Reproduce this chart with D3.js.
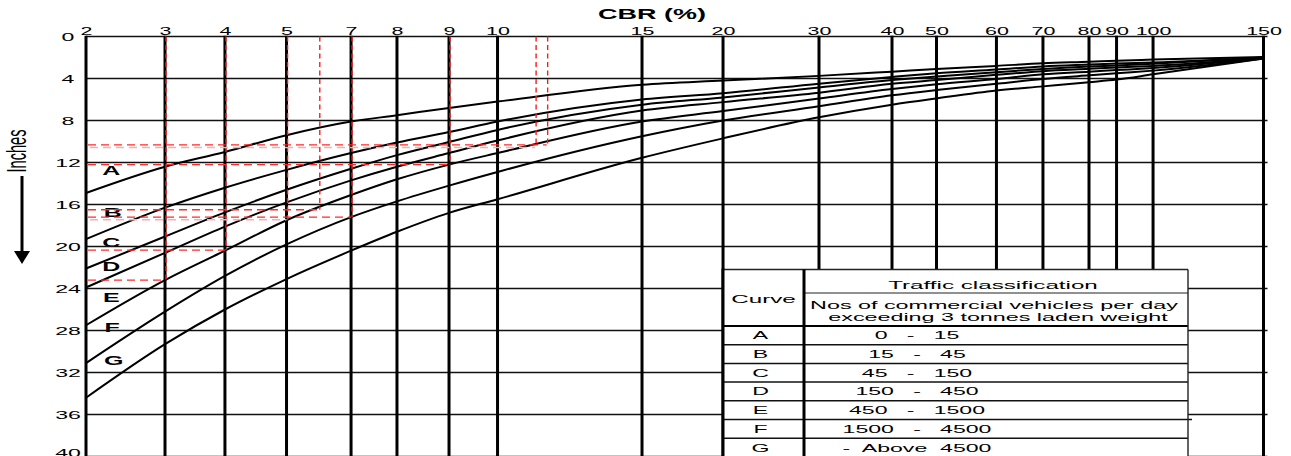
<!DOCTYPE html>
<html>
<head>
<meta charset="utf-8">
<script src="https://cdn.jsdelivr.net/npm/d3@7"></script>
<style>
  html, body { margin: 0; padding: 0; background: #fff; }
  svg { display: block; font-family: "Liberation Sans", Arial, sans-serif; }
</style>
</head>
<body>
<svg id="chart" width="1291" height="456"></svg>
<script>
// ---- data -------------------------------------------------------------
// CBR values printed at the vertical rules
const cbrTicks = [2, 3, 4, 5, 7, 8, 9, 10, 15, 20, 30, 40, 50, 60, 70, 80, 90, 100, 150];
// thickness of construction, inches (axis runs downward)
const depthTicks = [0, 4, 8, 12, 16, 20, 24, 28, 32, 36, 40];

const curveNames = ["A", "B", "C", "D", "E", "F", "G"];
// thickness (inches) of each curve at the CBR values in cbrTicks
const curveA = [14.9, 12.4, 11.0, 9.4, 8.1, 7.5, 6.8, 6.2, 4.6, 4.2, 3.75, 3.35, 3.1, 2.8, 2.55, 2.4, 2.3, 2.2, 1.95];
const curveB = [19.3, 16.3, 14.4, 12.7, 11.1, 10.1, 9.1, 8.1, 6.0, 5.4, 4.5, 3.85, 3.5, 3.15, 2.85, 2.67, 2.57, 2.48, 2.0];
const curveC = [22.1, 19.05, 16.75, 14.6, 12.6, 11.3, 10.05, 8.9, 6.5, 5.8, 4.85, 4.15, 3.8, 3.4, 3.1, 2.86, 2.76, 2.6, 2.0];
const curveD = [23.9, 20.6, 18.1, 15.8, 13.7, 12.4, 11.1, 9.9, 7.05, 6.25, 5.35, 4.5, 4.15, 3.65, 3.3, 3.08, 2.95, 2.8, 2.05];
const curveE = [27.5, 23.2, 20.4, 17.5, 15.1, 13.6, 12.2, 11.1, 8.1, 7.1, 5.9, 5.0, 4.55, 4.05, 3.6, 3.35, 3.2, 3.0, 2.05];
const curveF = [31.1, 26.2, 22.8, 19.8, 17.2, 15.7, 14.2, 12.9, 9.5, 8.0, 6.65, 5.6, 5.1, 4.5, 4.05, 3.7, 3.5, 3.25, 2.1];
const curveG = [34.4, 29.3, 26.0, 23.1, 20.4, 18.6, 16.8, 15.5, 11.55, 9.7, 7.7, 6.5, 5.9, 5.15, 4.75, 4.35, 4.1, 3.6, 2.1];
// where each curve letter sits (CBR, inches)
const labelCBR = [2.32, 2.34, 2.32, 2.32, 2.32, 2.33, 2.35];
const labelDepth = [12.8, 16.8, 19.6, 21.9, 24.9, 27.7, 30.9];

// traffic classification table
const tableTitle = "Traffic classification";
const tableSub1 = "Nos of commercial vehicles per day";
const tableSub2 = "exceeding 3 tonnes laden weight";
const trafficRanges = ["0   -   15", "15   -   45", "45   -   150", "150   -   450",
                       "450   -   1500", "1500   -   4500", "-  Above  4500"];

// worked readings: CBR rule drawn down to a thickness, then read across
const verticalCBR = [3, 4, 5, 6, 7, 9, 11.3, 11.7];
const verticalTo  = [23.2, 20.35, 17.45, 16.5, 17.2, 12.2, 10.33, 10.33];
const readDepth   = [23.2, 20.35, 16.5, 17.2, 12.2, 10.33];
const readToCBR   = [3, 4, 6, 7, 9, 11.7];
const paleDepth   = [17.45, 10.57];
const paleToCBR   = [5, 11.3];

// ---- layout -----------------------------------------------------------
const W = 1291, H = 456;
const plot = { left: 86, right: 1263.5, top: 36.5, inch: 10.5 };
// the printed CBR scale is non-uniform: fraction of the axis length at each rule
const cbrRuleFraction = [0, 0.0671, 0.1180, 0.1703, 0.2251, 0.2641, 0.3083, 0.3495, 0.4722,
                         0.5410, 0.6225, 0.6845, 0.7223, 0.7732, 0.8127, 0.8518, 0.8752, 0.9062, 1];
const table = { left: 723, right: 1188, top: 269.5, split: 804, titleLine: 293, headLine: 326, row: 18.7 };
const TEXT_SX = 2.0;   // horizontal stretch of the printed lettering

const svg = d3.select("#chart");
const x = d3.scaleLinear()
  .domain(cbrTicks)
  .range(cbrRuleFraction.map(f => plot.left + f * (plot.right - plot.left)));
const y = d3.scaleLinear().domain([0, 40]).range([plot.top, plot.top + 40 * plot.inch]);

function stretched(g, px, py, str, o = {}) {
  return g.append("text")
    .attr("transform", `translate(${px},${py}) scale(${o.sx || TEXT_SX},1)`)
    .attr("text-anchor", o.anchor || "middle")
    .attr("font-size", o.size || 11)
    .attr("font-weight", o.weight || "normal")
    .attr("fill", "#000")
    .text(str);
}

// ---- title & axis labels ---------------------------------------------
stretched(svg, 652, 19, "CBR (%)", { size: 15, weight: "bold", sx: 1.8 });

svg.append("g")
  .attr("transform", `translate(0,${plot.top - 1.5})`)
  .call(d3.axisTop(x).tickValues(cbrTicks).tickSize(0).tickPadding(0).tickFormat(d3.format("d")))
  .call(g => g.select(".domain").remove())
  .call(g => g.selectAll("text")
    .attr("transform", "scale(1.95,1)")
    .attr("font-size", 11)
    .attr("font-family", "Liberation Sans, Arial, sans-serif")
    .attr("fill", "#000"));

svg.append("g")
  .attr("transform", "translate(68,0)")
  .call(d3.axisLeft(y).tickValues(depthTicks).tickSize(0).tickPadding(0).tickFormat(d3.format("d")))
  .call(g => g.select(".domain").remove())
  .call(g => g.selectAll("text")
    .attr("text-anchor", "middle")
    .attr("transform", "scale(2.1,1)")
    .attr("font-size", 11)
    .attr("font-family", "Liberation Sans, Arial, sans-serif")
    .attr("fill", "#000"))
  // the last label sits against the lower edge of the sheet
  .call(g => g.selectAll(".tick").filter(d => d === 40).select("text").attr("y", -4));

// "Inches" with a downward arrow
svg.append("text")
  .attr("transform", "translate(26,151) scale(1.9,1) rotate(-90)")
  .attr("text-anchor", "middle")
  .attr("font-size", 14.6)
  .attr("fill", "#000")
  .text("Inches");
svg.append("line").attr("x1", 22).attr("x2", 22).attr("y1", 176).attr("y2", 254)
  .attr("stroke", "#000").attr("stroke-width", 3);
svg.append("path").attr("d", "M14,251 L30,251 L22,264 Z").attr("fill", "#000");

// ---- curve letters (under the grid) ---------------------------------
svg.append("g").selectAll("text")
  .data(curveNames)
  .join("text")
  .attr("transform", (d, i) => `translate(${x(labelCBR[i])},${y(labelDepth[i])}) scale(2,1)`)
  .attr("text-anchor", "middle")
  .attr("dominant-baseline", "central")
  .attr("font-size", 12.5)
  .attr("font-weight", "bold")
  .attr("fill", "#000")
  .text(d => d);

// ---- grid -------------------------------------------------------------
svg.append("g").selectAll("line")
  .data(depthTicks)
  .join("line")
  .attr("x1", plot.left).attr("x2", plot.right + 4)
  .attr("y1", d => y(d)).attr("y2", d => y(d))
  .attr("stroke", "#111").attr("stroke-width", 1.6);

const underTable = v => x(v) > table.left + 2 && x(v) < table.right;
svg.append("g").selectAll("line")
  .data(cbrTicks)
  .join("line")
  .attr("x1", d => x(d)).attr("x2", d => x(d))
  .attr("y1", y(0) - 0.8)
  .attr("y2", d => underTable(d) ? table.top : H + 2)
  .attr("stroke", "#000").attr("stroke-width", 3);

// ---- design curves ----------------------------------------------------
const curves = [curveA, curveB, curveC, curveD, curveE, curveF, curveG];
const line = d3.line()
  .x(d => x(d.cbr))
  .y(d => y(d.depth))
  .curve(d3.curveMonotoneX);
svg.append("g").selectAll("path")
  .data(curves.map(vals => vals.map((v, i) => ({ cbr: cbrTicks[i], depth: v }))))
  .join("path")
  .attr("d", line)
  .attr("fill", "none")
  .attr("stroke", "#000")
  .attr("stroke-width", 2);

// ---- worked readings (dashed red) ------------------------------------
const red = svg.append("g").attr("fill", "none");
verticalCBR.forEach((c, i) => {
  red.append("line")
    .attr("x1", x(c) + 1).attr("x2", x(c) + 1)
    .attr("y1", y(0)).attr("y2", y(verticalTo[i]))
    .attr("stroke", "#ff1a1a").attr("stroke-width", 1.4).attr("stroke-dasharray", "5,3.5");
});
readDepth.forEach((d, i) => {
  red.append("line")
    .attr("x1", x(2) + 2).attr("x2", x(readToCBR[i]))
    .attr("y1", y(d)).attr("y2", y(d))
    .attr("stroke", "#ff2a2a").attr("stroke-width", 1.3).attr("stroke-dasharray", "8,5");
});
paleDepth.forEach((d, i) => {
  red.append("line")
    .attr("x1", x(2) + 4).attr("x2", x(paleToCBR[i]))
    .attr("y1", y(d)).attr("y2", y(d))
    .attr("stroke", "#ffacac").attr("stroke-width", 1.5).attr("stroke-dasharray", "8,5");
});

// ---- traffic classification table ------------------------------------
const tg = svg.append("g");
tg.append("rect")
  .attr("x", table.left).attr("y", table.top)
  .attr("width", table.right - table.left).attr("height", H - table.top + 2)
  .attr("fill", "#fff");
const rowTop = i => table.headLine + i * table.row;

// row separators
tg.selectAll("line.row")
  .data(curveNames.slice(0, -1))
  .join("line")
  .attr("class", "row")
  .attr("x1", table.left).attr("x2", (d, i) => i === 4 ? table.right + 4 : table.right)
  .attr("y1", (d, i) => rowTop(i + 1)).attr("y2", (d, i) => rowTop(i + 1))
  .attr("stroke", "#111").attr("stroke-width", 1.5);
tg.append("line").attr("x1", table.left).attr("x2", table.right)
  .attr("y1", table.top).attr("y2", table.top).attr("stroke", "#222").attr("stroke-width", 1.3);
tg.append("line").attr("x1", table.split).attr("x2", table.right)
  .attr("y1", table.titleLine).attr("y2", table.titleLine).attr("stroke", "#222").attr("stroke-width", 1.2);
tg.append("line").attr("x1", table.left).attr("x2", table.right)
  .attr("y1", table.headLine).attr("y2", table.headLine).attr("stroke", "#000").attr("stroke-width", 2);
tg.append("line").attr("x1", table.left).attr("x2", table.left)
  .attr("y1", table.top - 1).attr("y2", H + 2).attr("stroke", "#000").attr("stroke-width", 3);
tg.append("line").attr("x1", table.split).attr("x2", table.split)
  .attr("y1", table.top).attr("y2", H + 2).attr("stroke", "#000").attr("stroke-width", 3);
tg.append("line").attr("x1", table.right).attr("x2", table.right)
  .attr("y1", table.top).attr("y2", H + 2).attr("stroke", "#222").attr("stroke-width", 1.4);

const colMid = (table.left + table.split) / 2;
stretched(tg, colMid, 303, "Curve", { sx: 2.2 });
stretched(tg, 993, 288.5, tableTitle, { sx: 2.2 });
stretched(tg, 994, 308.5, tableSub1, { sx: 2.12 });
stretched(tg, 998, 321, tableSub2, { sx: 2.12 });

curveNames.forEach((n, i) => {
  const base = rowTop(i) + table.row / 2 + 4;
  stretched(tg, colMid - 3, base, n, { sx: 2.1 });
  stretched(tg, 917, base, trafficRanges[i], { sx: 2.1 }).style("white-space", "pre");
});
</script>
</body>
</html>
